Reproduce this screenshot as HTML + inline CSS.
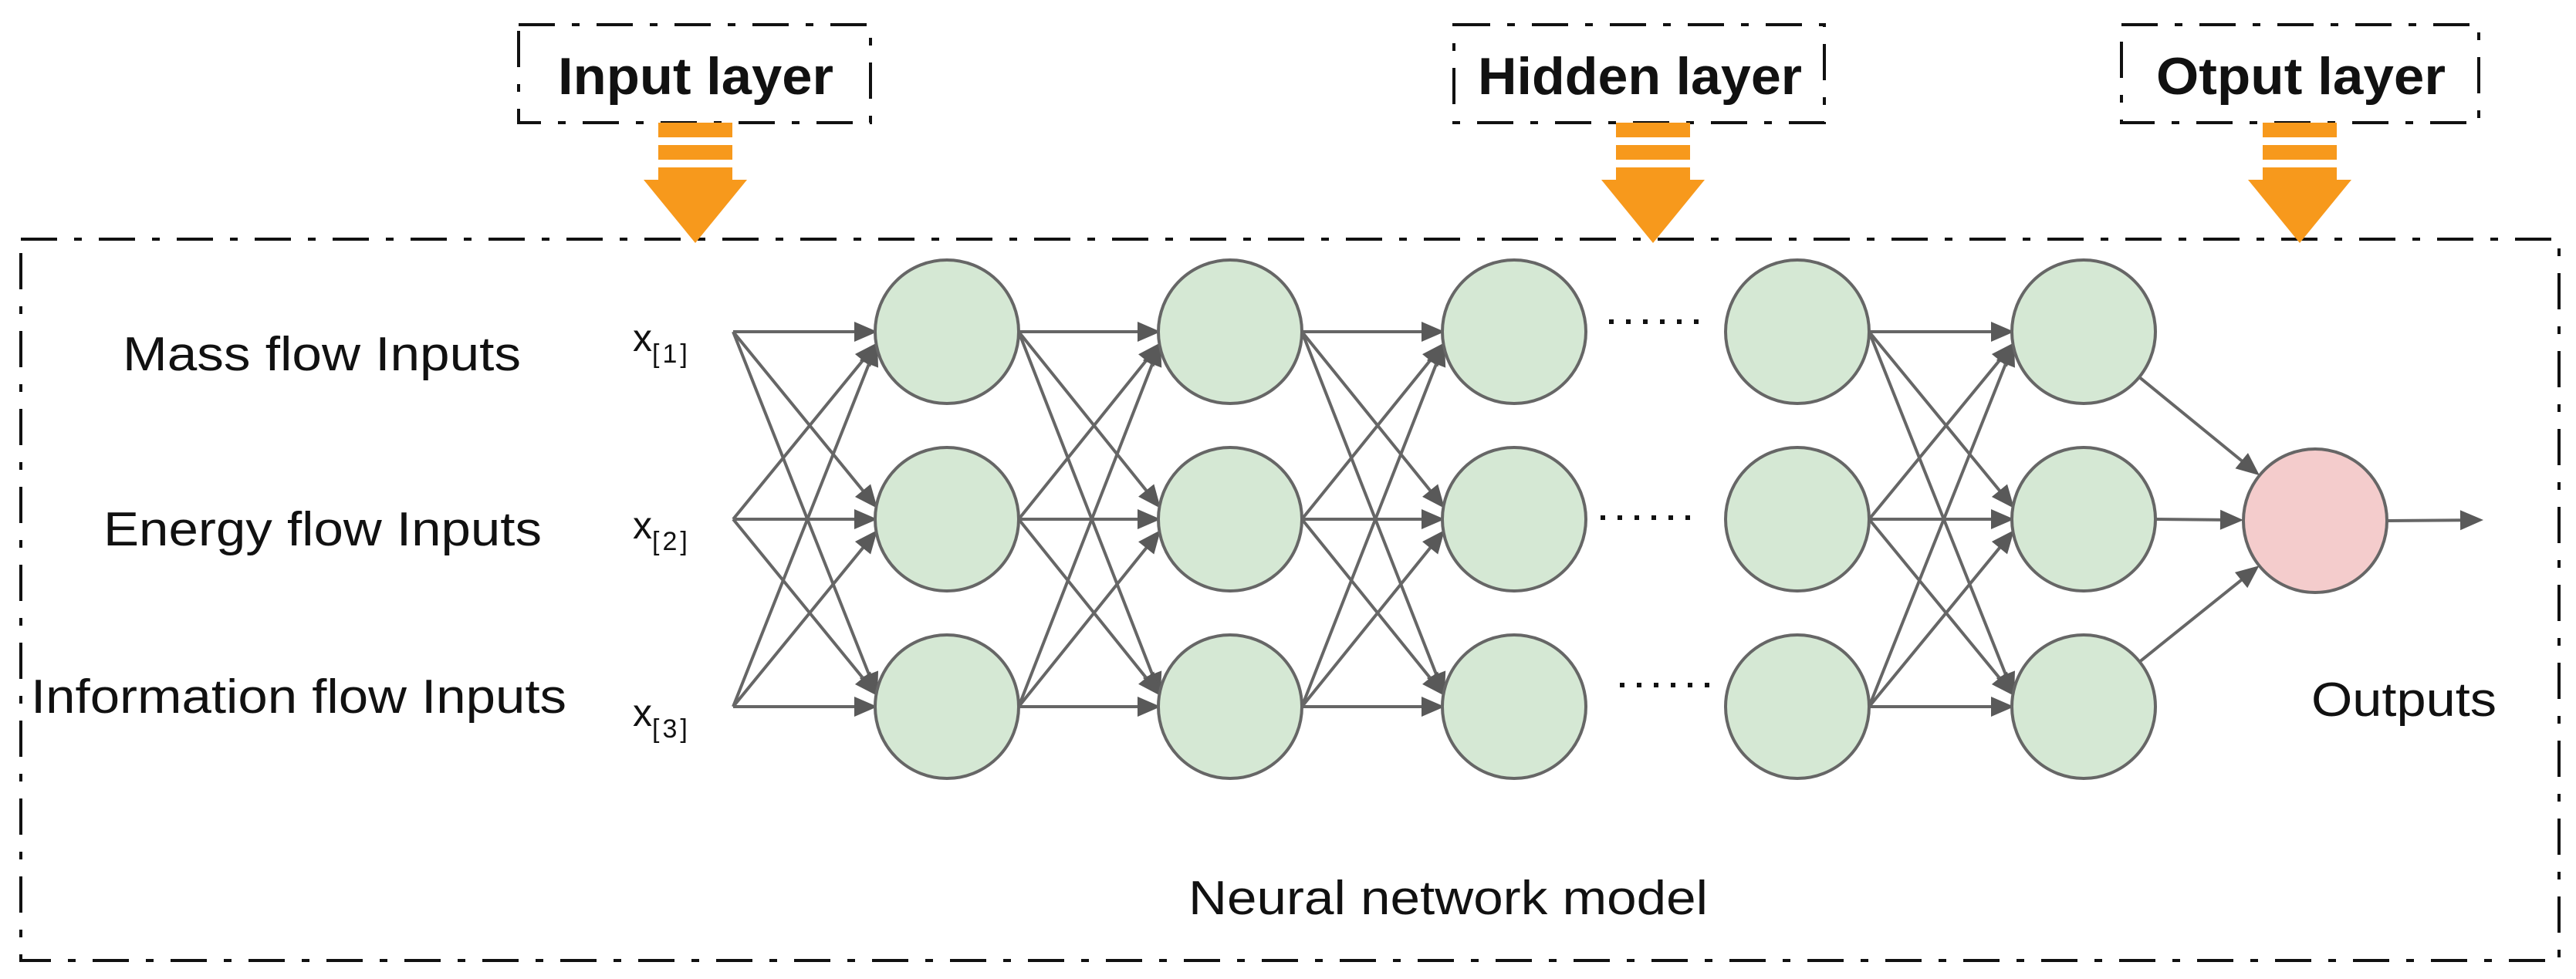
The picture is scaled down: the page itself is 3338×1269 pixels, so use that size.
<!DOCTYPE html>
<html><head><meta charset="utf-8"><style>
html,body{margin:0;padding:0;background:#fff}
svg{display:block}
</style></head><body>
<svg width="3338" height="1269" viewBox="0 0 3338 1269" xmlns="http://www.w3.org/2000/svg">
<g fill="none" stroke="#111" stroke-width="4" stroke-dasharray="47 22 10 22">
<rect x="27" y="310" width="3289" height="935"/>
<rect x="672" y="32" width="456" height="127"/>
<rect x="1884" y="32" width="480" height="127"/>
<rect x="2749" y="32" width="463" height="127"/>
</g>
<g font-family="Liberation Sans, sans-serif" font-weight="bold" font-size="68" fill="#111">
<text x="723" y="122" textLength="357" lengthAdjust="spacingAndGlyphs">Input layer</text>
<text x="1915" y="122" textLength="420" lengthAdjust="spacingAndGlyphs">Hidden layer</text>
<text x="2794" y="122" textLength="375" lengthAdjust="spacingAndGlyphs">Otput layer</text>
</g>
<g fill="#f7991c">
<rect x="853" y="159" width="96" height="19"/><rect x="853" y="188" width="96" height="19"/><rect x="853" y="217" width="96" height="16"/>
<polygon points="834,233 968,233 901,315"/>
<rect x="2094" y="159" width="96" height="19"/><rect x="2094" y="188" width="96" height="19"/><rect x="2094" y="217" width="96" height="16"/>
<polygon points="2075,233 2209,233 2142,315"/>
<rect x="2932" y="159" width="96" height="19"/><rect x="2932" y="188" width="96" height="19"/><rect x="2932" y="217" width="96" height="16"/>
<polygon points="2913,233 3047,233 2980,315"/>
</g>
<g font-family="Liberation Sans, sans-serif" font-size="62" fill="#111">
<text x="159" y="480" textLength="516" lengthAdjust="spacingAndGlyphs">Mass flow Inputs</text>
<text x="134" y="707" textLength="568" lengthAdjust="spacingAndGlyphs">Energy flow Inputs</text>
<text x="40" y="924" textLength="694" lengthAdjust="spacingAndGlyphs">Information flow Inputs</text>
<text x="2995" y="928" textLength="240" lengthAdjust="spacingAndGlyphs">Outputs</text>
<text x="1540" y="1185" textLength="673" lengthAdjust="spacingAndGlyphs">Neural network model</text>
</g>
<g font-family="Liberation Sans, sans-serif" fill="#111">
<text x="820" y="455" font-size="50">x<tspan font-size="34" dy="15" letter-spacing="4">[1]</tspan></text>
<text x="820" y="698" font-size="50">x<tspan font-size="34" dy="15" letter-spacing="4">[2]</tspan></text>
<text x="820" y="941" font-size="50">x<tspan font-size="34" dy="15" letter-spacing="4">[3]</tspan></text>
</g>
<g id="edges" stroke="#666" stroke-width="4" fill="#595959"></g>
<g id="nodes" stroke="#666" stroke-width="4"></g>
<g fill="#111">
<rect x="2085" y="414" width="6" height="6"/><rect x="2107" y="414" width="6" height="6"/><rect x="2129" y="414" width="6" height="6"/><rect x="2151" y="414" width="6" height="6"/><rect x="2173" y="414" width="6" height="6"/><rect x="2195" y="414" width="6" height="6"/>
<rect x="2074" y="668" width="6" height="6"/><rect x="2096" y="668" width="6" height="6"/><rect x="2118" y="668" width="6" height="6"/><rect x="2140" y="668" width="6" height="6"/><rect x="2162" y="668" width="6" height="6"/><rect x="2184" y="668" width="6" height="6"/>
<rect x="2099" y="885" width="6" height="6"/><rect x="2121" y="885" width="6" height="6"/><rect x="2143" y="885" width="6" height="6"/><rect x="2165" y="885" width="6" height="6"/><rect x="2187" y="885" width="6" height="6"/><rect x="2209" y="885" width="6" height="6"/>
</g>
<script>
(function(){
var NS="http://www.w3.org/2000/svg";
var E=document.getElementById("edges"),N=document.getElementById("nodes");
var rows=[430,673,916],R=93;
var cols=[1227,1594,1962,2329,2700];
function line(x1,y1,x2,y2){
 var l=document.createElementNS(NS,"line");
 var dx=x2-x1,dy=y2-y1,L=Math.sqrt(dx*dx+dy*dy),ux=dx/L,uy=dy/L;
 var ah=30,aw=13;
 l.setAttribute("x1",x1);l.setAttribute("y1",y1);l.setAttribute("x2",x2-ux*ah*0.8);l.setAttribute("y2",y2-uy*ah*0.8);E.appendChild(l);
 var bx=x2-ux*ah,by=y2-uy*ah;
 var p=document.createElementNS(NS,"polygon");
 p.setAttribute("points",x2+","+y2+" "+(bx-uy*aw)+","+(by+ux*aw)+" "+(bx+uy*aw)+","+(by-ux*aw));
 p.setAttribute("stroke","none");E.appendChild(p);
}
function conn(xs,cx){
 for(var i=0;i<3;i++)for(var j=0;j<3;j++){
  var dy=(rows[i]-rows[j]);var off=dy===0?0:(dy>0?14:-14);
  line(xs,rows[i],cx-R+3,rows[j]+off);}
}
conn(950,cols[0]);
conn(cols[0]+R,cols[1]);
conn(cols[1]+R,cols[2]);
conn(cols[3]+R,cols[4]);
function toC(x1,y1,cx,cy){var dx=cx-x1,dy=cy-y1,L=Math.sqrt(dx*dx+dy*dy);return [cx-dx/L*R,cy-dy/L*R];}
for(var i=0;i<3;i++){
 var sx,sy;
 if(i==1){sx=cols[4]+R;sy=rows[1];}else{var a=toC(3000,675,cols[4],rows[i]);sx=a[0];sy=a[1];}
 var b=toC(sx,sy,3000,675);line(sx,sy,b[0],b[1]);}
line(3093,675,3218,674);
for(var c=0;c<5;c++)for(var r=0;r<3;r++){var ci=document.createElementNS(NS,"circle");ci.setAttribute("cx",cols[c]);ci.setAttribute("cy",rows[r]);ci.setAttribute("r",R);ci.setAttribute("fill","#d5e8d4");N.appendChild(ci);}
var o=document.createElementNS(NS,"circle");o.setAttribute("cx",3000);o.setAttribute("cy",675);o.setAttribute("r",R);o.setAttribute("fill","#f4cccc");N.appendChild(o);
})();
</script>
</svg>
</body></html>
